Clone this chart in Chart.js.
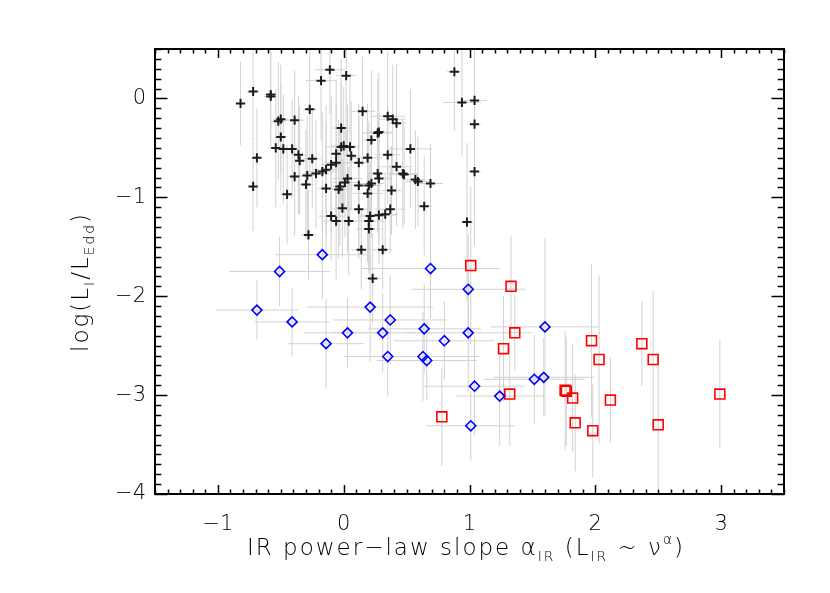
<!DOCTYPE html>
<html>
<head>
<meta charset="utf-8">
<script src="https://cdn.jsdelivr.net/npm/chart.js@4.4.0/dist/chart.umd.min.js"></script>
<style>
  body { margin: 0; background: #fff; }
  #wrap { width: 830px; height: 593px; }
</style>
</head>
<body>
<div id="wrap"><canvas id="c" width="830" height="593"></canvas></div>
<script>
var FONT = '"DejaVu Sans", "Open Sans", sans-serif';
var WEIGHT = 200;

// tick labels
var xTicks = [-1, 0, 1, 2, 3];
var yTicks = [-4, -3, -2, -1, 0];

// black crosses
var blackX = [
  -0.82, -0.72, -0.58, -0.58, -0.69, -0.72, -0.52, -0.50, -0.39, -0.50,
  -0.54, -0.48, -0.41, -0.36, -0.35, -0.25, -0.27, -0.39, -0.45, -0.30,
  -0.29, -0.22, -0.17, -0.14, -0.10, -0.06, -0.06, -0.02, 0.00, 0.05,
  0.06, -0.02, -0.18, -0.11, 0.02, 0.15, -0.14, -0.04, -0.03, 0.01,
  0.03, -0.01, -0.10, -0.06, 0.04, 0.12, 0.12, 0.12, 0.19, 0.20,
  0.22, 0.19, 0.27, 0.28, 0.22, 0.27, 0.28, 0.35, 0.39, 0.42,
  0.35, 0.42, 0.47, 0.48, 0.38, 0.37, 0.33, 0.28, 0.21, 0.20,
  0.20, 0.14, 0.31, 0.23, 0.53, 0.57, 0.59, 0.69, 0.64, 0.88,
  0.94, 1.04, 1.04, 1.04, 0.98, -0.28
];
var blackY = [
  -0.05, 0.07, 0.04, 0.02, -0.60, -0.89, -0.23, -0.21, -0.22, -0.39,
  -0.50, -0.51, -0.51, -0.57, -0.63, -0.61, -0.11, -0.79, -0.97, -0.87,
  -0.78, -0.76, -0.74, -0.72, -0.67, -0.65, -0.56, -0.49, -0.48, -0.49,
  -0.58, -0.30, 0.18, 0.29, 0.23, -0.13, -0.91, -0.92, -0.89, -0.85,
  -0.81, -1.11, -1.19, -1.24, -1.24, -0.88, -1.12, -0.65, -0.60, -0.88,
  -0.86, -0.96, -0.76, -0.81, -0.42, -0.35, -0.34, -0.18, -0.21, -0.25,
  -0.57, -0.69, -0.76, -0.77, -0.93, -1.12, -1.17, -1.18, -1.19, -1.24,
  -1.32, -1.53, -1.53, -1.82, -0.51, -0.82, -0.84, -0.86, -1.09, 0.27,
  -0.04, -0.02, -0.26, -0.74, -1.25, -1.38
];
var blackXErr = [
  0.04, 0.05, 0.05, 0.05, 0.04, 0.04, 0.06, 0.06, 0.08, 0.05,
  0.06, 0.07, 0.08, 0.06, 0.05, 0.07, 0.05, 0.06, 0.05, 0.06,
  0.08, 0.10, 0.12, 0.10, 0.08, 0.10, 0.06, 0.12, 0.10, 0.08,
  0.06, 0.07, 0.12, 0.12, 0.08, 0.10, 0.06, 0.08, 0.06, 0.10,
  0.12, 0.08, 0.10, 0.10, 0.06, 0.08, 0.10, 0.10, 0.12, 0.10,
  0.10, 0.12, 0.08, 0.10, 0.06, 0.12, 0.10, 0.14, 0.10, 0.08,
  0.10, 0.12, 0.12, 0.12, 0.08, 0.12, 0.10, 0.14, 0.10, 0.12,
  0.10, 0.08, 0.08, 0.06, 0.17, 0.08, 0.10, 0.10, 0.06, 0.06,
  0.15, 0.10, 0.05, 0.05, 0.05, 0.06
];
var blackYErr = [
  0.42, 0.50, 0.55, 0.45, 0.50, 0.45, 0.60, 0.55, 0.50, 0.55,
  0.60, 0.55, 0.50, 0.60, 0.55, 0.50, 0.65, 0.60, 0.50, 0.55,
  0.60, 0.55, 0.60, 0.65, 0.70, 0.60, 0.75, 0.65, 0.60, 0.70,
  0.55, 0.70, 0.60, 0.45, 0.80, 0.55, 0.65, 0.70, 0.60, 0.55,
  0.75, 0.50, 0.45, 0.60, 0.55, 0.70, 0.50, 0.60, 0.55, 0.65,
  0.55, 0.70, 0.60, 0.65, 0.70, 0.55, 0.60, 0.65, 0.55, 0.60,
  0.50, 0.60, 0.55, 0.50, 0.45, 0.45, 0.40, 0.50, 0.55, 0.50,
  0.45, 0.40, 0.40, 0.45, 0.60, 0.50, 0.45, 0.40, 0.50, 0.60,
  0.55, 0.65, 0.70, 0.75, 0.80, 0.45
];

// blue diamonds
var blueX = [-0.17, -0.51, 0.69, 0.99, -0.69, -0.41, 0.21, 0.37, 0.03, 0.31, -0.14, 0.64,
  0.80, 0.99, 0.35, 0.63, 0.66, 1.04, 1.01, 1.60, 1.515, 1.59, 1.24];
var blueY = [-1.58, -1.75, -1.72, -1.93, -2.14, -2.26, -2.11, -2.24, -2.37, -2.37, -2.48, -2.33,
  -2.45, -2.37, -2.61, -2.61, -2.65, -2.91, -3.31, -2.31, -2.84, -2.82, -3.01];
var blueXErr = [0.37, 0.40, 0.55, 0.45, 0.33, 0.30, 0.50, 0.45, 0.35, 0.40, 0.30, 0.45,
  0.40, 0.50, 0.35, 0.45, 0.40, 0.40, 0.35, 0.43, 0.40, 0.40, 0.35];
var blueYErr = [0.45, 0.35, 0.50, 0.55, 0.30, 0.35, 0.55, 0.45, 0.35, 0.40, 0.45, 0.45,
  0.40, 0.60, 0.40, 0.45, 0.40, 0.50, 0.35, 0.90, 0.45, 0.40, 0.50];

// red squares
var redX = [1.01, 1.33, 1.36, 1.27, 1.32, 0.78, 1.76, 1.77, 1.82, 1.84, 1.98, 1.97, 2.03, 2.12, 2.37, 2.46, 2.50, 2.99];
var redY = [-1.69, -1.90, -2.37, -2.53, -2.99, -3.22, -2.95, -2.96, -3.03, -3.28, -3.36, -2.45, -2.64, -3.05, -2.48, -2.64, -3.30, -2.99];
var redYErr = [0.80, 0.51, 0.38, 0.53, 0.53, 0.50, 0.60, 0.55, 0.54, 0.49, 0.47, 0.77, 0.85, 0.43, 0.43, 0.70, 0.65, 0.55];

function pts(xs, ys) {
  return xs.map(function (x, i) { return { x: x, y: ys[i] }; });
}

function fmt(v) {
  return v < 0 ? '\u2212' + Math.abs(v) : String(v);
}

// gray error bars under the points
var errorBars = {
  id: 'errorBars',
  beforeDatasetsDraw: function (chart) {
    var ctx = chart.ctx, a = chart.chartArea;
    var sx = chart.scales.x, sy = chart.scales.y;
    ctx.save();
    ctx.beginPath();
    ctx.rect(a.left, a.top, a.right - a.left, a.bottom - a.top);
    ctx.clip();
    ctx.strokeStyle = '#d2d2d2';
    ctx.lineWidth = 1;
    chart.data.datasets.forEach(function (ds) {
      ds.data.forEach(function (p, i) {
        var px = sx.getPixelForValue(p.x), py = sy.getPixelForValue(p.y);
        ctx.beginPath();
        if (ds.xErr) {
          ctx.moveTo(sx.getPixelForValue(p.x - ds.xErr[i]), py);
          ctx.lineTo(sx.getPixelForValue(p.x + ds.xErr[i]), py);
        }
        if (ds.yErr) {
          ctx.moveTo(px, sy.getPixelForValue(p.y - ds.yErr[i]));
          ctx.lineTo(px, sy.getPixelForValue(p.y + ds.yErr[i]));
        }
        ctx.stroke();
      });
    });
    ctx.restore();
  }
};

// text with sub/superscript pieces, centred on cx
function drawRich(ctx, parts, cx, base, size, spacing) {
  ctx.textAlign = 'left';
  ctx.textBaseline = 'alphabetic';
  ctx.letterSpacing = spacing + 'px';
  var w = 0;
  parts.forEach(function (p) {
    ctx.font = WEIGHT + ' ' + (p[1] ? size * 0.6 : size) + 'px ' + FONT;
    w += ctx.measureText(p[0]).width;
  });
  var x = cx - w / 2;
  parts.forEach(function (p) {
    ctx.font = WEIGHT + ' ' + (p[1] ? size * 0.6 : size) + 'px ' + FONT;
    var dy = p[1] === 1 ? size * 0.25 : (p[1] === 2 ? -size * 0.5 : 0);
    ctx.fillText(p[0], x, base + dy);
    x += ctx.measureText(p[0]).width;
  });
  ctx.letterSpacing = '0px';
}

// box, inward ticks on all four sides, axis titles
var frame = {
  id: 'frame',
  afterDraw: function (chart) {
    var ctx = chart.ctx, a = chart.chartArea;
    var sx = chart.scales.x, sy = chart.scales.y;
    ctx.save();
    ctx.strokeStyle = '#000';
    ctx.lineWidth = 1.5;
    ctx.beginPath();
    var i, p, len;
    for (i = Math.round(sx.min * 10); i <= Math.round(sx.max * 10); i++) {
      p = Math.round(sx.getPixelForValue(i / 10)) + 0.5;
      len = i % 10 === 0 ? 9 : 4.5;
      ctx.moveTo(p, a.bottom); ctx.lineTo(p, a.bottom - len);
      ctx.moveTo(p, a.top); ctx.lineTo(p, a.top + len);
    }
    for (i = Math.round(sy.min * 10); i <= Math.round(sy.max * 10); i++) {
      p = Math.round(sy.getPixelForValue(i / 10)) + 0.5;
      len = i % 10 === 0 ? 12.5 : 6.3;
      ctx.moveTo(a.left, p); ctx.lineTo(a.left + len, p);
      ctx.moveTo(a.right, p); ctx.lineTo(a.right - len, p);
    }
    ctx.stroke();
    ctx.lineWidth = 2;
    ctx.strokeRect(a.left, a.top, a.right - a.left, a.bottom - a.top);

    ctx.fillStyle = '#000';
    drawRich(ctx, [['IR power\u2212law slope ', 0], ['\u03b1', 0], ['IR', 1], [' (L', 0], ['IR', 1],
      [' ~ ', 0], ['\u03bd', 0], ['\u03b1', 2], [')', 0]], 466, 555, 23, 2);
    ctx.translate(88, 282);
    ctx.rotate(-Math.PI / 2);
    drawRich(ctx, [['log(L', 0], ['I', 1], ['/L', 0], ['Edd', 1], [')', 0]], 0, 0, 23, 2);
    ctx.restore();
  }
};

new Chart(document.getElementById('c'), {
  type: 'scatter',
  data: {
    datasets: [
      {
        data: pts(blackX, blackY), xErr: blackXErr, yErr: blackYErr,
        pointStyle: 'cross', pointRadius: 4.6, borderWidth: 2,
        borderColor: '#1c1c1c', backgroundColor: '#1c1c1c'
      },
      {
        data: pts(blueX, blueY), xErr: blueXErr, yErr: blueYErr,
        pointStyle: 'rectRot', pointRadius: 5, borderWidth: 1.6,
        borderColor: '#0000ff', backgroundColor: 'rgba(0,0,0,0)'
      },
      {
        data: pts(redX, redY), yErr: redYErr,
        pointStyle: 'rect', pointRadius: 7, borderWidth: 1.6,
        borderColor: '#ff0000', backgroundColor: 'rgba(0,0,0,0)'
      }
    ]
  },
  options: {
    responsive: false,
    animation: false,
    events: [],
    layout: { padding: { top: 49, right: 46, left: 0, bottom: 0 } },
    plugins: { legend: { display: false }, tooltip: { enabled: false } },
    scales: {
      x: {
        type: 'linear', min: -1.5, max: 3.5,
        grid: { display: false, drawTicks: false },
        border: { display: false },
        afterBuildTicks: function (s) { s.ticks = xTicks.map(function (v) { return { value: v }; }); },
        afterFit: function (s) { s.height = 99; },
        ticks: {
          padding: 18, color: '#000', maxRotation: 0, autoSkip: false,
          font: { family: FONT, size: 21, weight: WEIGHT },
          callback: fmt
        }
      },
      y: {
        type: 'linear', min: -4, max: 0.5,
        grid: { display: false, drawTicks: false },
        border: { display: false },
        afterBuildTicks: function (s) { s.ticks = yTicks.map(function (v) { return { value: v }; }); },
        afterFit: function (s) { s.width = 155; },
        ticks: {
          padding: 9, color: '#000', autoSkip: false,
          font: { family: FONT, size: 21, weight: WEIGHT },
          callback: fmt
        }
      }
    }
  },
  plugins: [errorBars, frame]
});
</script>
</body>
</html>
